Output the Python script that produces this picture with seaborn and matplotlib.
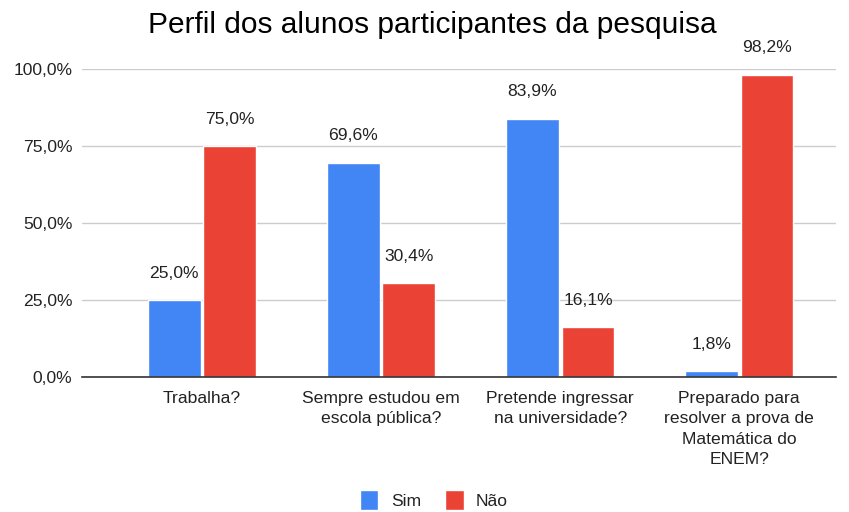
import matplotlib
matplotlib.use("Agg")
import matplotlib.pyplot as plt
import seaborn as sns
import pandas as pd
from matplotlib.ticker import FuncFormatter, FixedLocator
from matplotlib.patches import Patch

categories = ["Trabalha?", "Sempre estudou em\nescola pública?",
              "Pretende ingressar\nna universidade?",
              "Preparado para\nresolver a prova de\nMatemática do\nENEM?"]
sim = [25.0, 69.6, 83.9, 1.8]
nao = [75.0, 30.4, 16.1, 98.2]
series = ["Sim", "Não"]
colors = ["#4285F4", "#EA4335"]
title = "Perfil dos alunos participantes da pesquisa"

sns.set_theme(style="white")
plt.rcParams['font.family'] = ['Liberation Sans', 'DejaVu Sans']

df = pd.DataFrame({
    "cat": categories * 2,
    "serie": ["Sim"] * 4 + ["Não"] * 4,
    "val": [v / 100 for v in sim] + [v / 100 for v in nao],
})

FS = 12.6
fig = plt.figure(figsize=(8.49, 5.12), dpi=100)
ax = fig.add_axes([82/849, 1-377/512, (836-82)/849, (377-69)/512])
sns.barplot(data=df, x="cat", y="val", hue="serie", hue_order=series,
            palette=colors, width=0.62, gap=0.05, ax=ax, legend=False,
            saturation=1)

ax.set_ylim(0, 1.0)
ax.set_xlim(-0.67, 3.54)
ax.yaxis.set_major_locator(FixedLocator([0, 0.25, 0.5, 0.75, 1.0]))
ax.yaxis.set_major_formatter(FuncFormatter(lambda v, p: f"{v*100:.1f}%".replace(".", ",")))
ax.grid(axis="y", color="#cccccc", linewidth=1)
ax.set_axisbelow(True)
for s in ["top", "right", "left"]:
    ax.spines[s].set_visible(False)
ax.spines["bottom"].set_color("#333333")
ax.spines["bottom"].set_linewidth(1.2)
ax.set_xlabel("")
ax.set_ylabel("")
ax.tick_params(axis="both", length=0, labelsize=FS, colors="#222222")
ax.tick_params(axis="y", pad=7)
ax.tick_params(axis="x", pad=10)
for lbl in ax.get_xticklabels():
    lbl.set_linespacing(1.45)

for cont in ax.containers:
    labels = [f"{b.get_height()*100:.1f}%".replace(".", ",") for b in cont]
    ax.bar_label(cont, labels=labels, padding=14, fontsize=FS, color="#222222",
                 clip_on=False)

fig.text(432/849, 1-33/512, title, ha="center", va="baseline", fontsize=21.5, color="#000000")

handles = [Patch(facecolor=c, label=l) for c, l in zip(colors, series)]
fig.legend(handles=handles, loc="center", bbox_to_anchor=(434/849, 1-500/512),
           ncol=2, frameon=False, fontsize=FS, handlelength=1.05, handleheight=1.4,
           columnspacing=1.4, handletextpad=0.7, labelcolor="#222222")

fig.savefig("out.png", dpi=100)
